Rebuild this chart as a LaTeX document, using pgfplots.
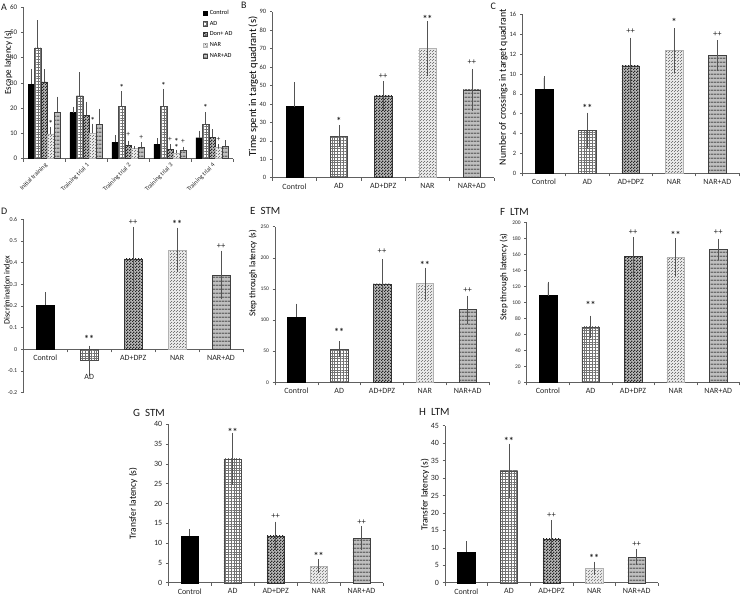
\documentclass[border=0pt]{standalone}
\usepackage{pgfplots}
\pgfplotsset{compat=1.18}
\usepackage{fontspec}
\setmainfont{Carlito}
\usetikzlibrary{patterns}

\pgfdeclarepatternformonly{finegrid}{\pgfqpoint{-0.1pt}{-0.1pt}}{\pgfqpoint{2.9pt}{2.9pt}}{\pgfqpoint{2.8pt}{2.8pt}}{%
  \pgfsetlinewidth{0.35pt}%
  \pgfpathmoveto{\pgfqpoint{0pt}{1.4pt}}\pgfpathlineto{\pgfqpoint{2.8pt}{1.4pt}}%
  \pgfpathmoveto{\pgfqpoint{1.4pt}{0pt}}\pgfpathlineto{\pgfqpoint{1.4pt}{2.8pt}}%
  \pgfusepath{stroke}}
\pgfdeclarepatternformonly{fcheck}{\pgfqpoint{0pt}{0pt}}{\pgfqpoint{3pt}{3pt}}{\pgfqpoint{3pt}{3pt}}{%
  \pgfpathrectangle{\pgfqpoint{0pt}{0pt}}{\pgfqpoint{1.5pt}{1.5pt}}%
  \pgfpathrectangle{\pgfqpoint{1.5pt}{1.5pt}}{\pgfqpoint{1.5pt}{1.5pt}}%
  \pgfusepath{fill}}
\pgfdeclarepatternformonly{fdots}{\pgfqpoint{0pt}{0pt}}{\pgfqpoint{2.5pt}{2.5pt}}{\pgfqpoint{2.5pt}{2.5pt}}{%
  \pgfpathcircle{\pgfqpoint{0.6pt}{0.6pt}}{0.5pt}%
  \pgfpathcircle{\pgfqpoint{1.85pt}{1.85pt}}{0.5pt}%
  \pgfusepath{fill}}
\pgfdeclarepatternformonly{hstripes}{\pgfqpoint{0pt}{0pt}}{\pgfqpoint{3pt}{3.5pt}}{\pgfqpoint{3pt}{3.5pt}}{%
  \pgfpathrectangle{\pgfqpoint{0pt}{0pt}}{\pgfqpoint{3pt}{1.6pt}}%
  \pgfusepath{fill}}

\pgfplotsset{
  panel/.style={
    scale only axis, axis lines*=left,
    axis line style={draw=gray!75!black, line width=0.5pt},
    tick style={draw=gray!75!black, line width=0.5pt},
    tick align=outside, major tick length=2.5pt, minor tick length=3pt,
    major x tick style={draw=none},
    xmin=-0.5, xmax=4.5, xtick={0,1,2,3,4},
    minor xtick={-0.5,0.5,1.5,2.5,3.5,4.5},
    xticklabels={Control,AD,AD+DPZ,NAR,NAR+AD},
    ybar, bar width=17.5pt,
    enlargelimits=false, clip=false,
    /pgf/number format/assume math mode=true,
    ylabel style={anchor=center, font=\fontsize{9}{10}\selectfont},
    xticklabel style={font=\fontsize{8}{9}\selectfont, text=black!85},
    yticklabel style={font=\fontsize{6.5}{7}\selectfont, text=black!85},
    error bars/y dir=both, error bars/y explicit,
    error bars/error bar style={draw=gray!65!black, line width=0.6pt},
    error bars/error mark options={draw=gray!65!black, mark size=1.6pt, line width=0.6pt},
  },
  ctrl/.style={fill=black, draw=black},
  adst/.style={fill=white, draw=gray!60!black, postaction={pattern=finegrid, pattern color=black!55}},
  dpz/.style={fill=gray!55, draw=gray!40!black, postaction={pattern=fcheck, pattern color=black!85}},
  nar/.style={fill=gray!18, draw=gray!60, postaction={pattern=fdots, pattern color=gray!55!black}},
  narad/.style={fill=gray!50, draw=gray!50!black, postaction={pattern=hstripes, pattern color=gray!85!black}},
}
\newcommand{\sig}[3]{\node[font=\bfseries\fontsize{10}{10}\selectfont, text=black!85, yshift=-1.8pt] at (axis cs:#1,#2) {#3};}
\newcommand{\sigp}[3]{\node[font=\fontsize{8.5}{9}\selectfont, text=black!85] at (axis cs:#1,#2) {#3};}

\begin{document}
\begin{tikzpicture}
\useasboundingbox (0pt,0pt) rectangle (740pt,598pt);

% ---------------- A
\begin{axis}[panel, at={(23.3pt,439.3pt)}, anchor=south west, width=209.7pt, height=151.7pt,
  ymin=0, ymax=60, ytick={0,10,...,60}, ybar=0pt, bar width=6.5pt,
  error bars/y dir=plus,
  xticklabels={Initial training,Training trial 1,Training trial 2,Training trial 3,Training trial 4},
  xticklabel style={rotate=45, anchor=north east, font=\fontsize{6.3}{7}\selectfont, inner sep=0.8pt},
  yticklabel style={font=\fontsize{7}{8}\selectfont},
  ylabel={Escape latency (s)}, ylabel style={at={(axis description cs:-0.0715,0.634)}},
  legend style={at={(0.857,0.995)}, anchor=north west, draw=none, fill=none, inner sep=0pt,
    font=\fontsize{6.3}{7}\selectfont, row sep=1.2pt, legend cell align=left,
    /tikz/every even column/.append style={column sep=0.5pt}},
  legend image code/.code={\draw[#1] (0pt,-2pt) rectangle (4.2pt,2.2pt);},
  ]
\addplot[ctrl] coordinates {(0,29.5) +- (0,5.5) (1,18.2) +- (0,1.8) (2,6.5) +- (0,2.1) (3,5.7) +- (0,1.7) (4,8.3) +- (0,2.2)};
\addplot[adst] coordinates {(0,43.9) +- (0,10.2) (1,24.9) +- (0,8.6) (2,20.8) +- (0,5.3) (3,20.7) +- (0,6.3) (4,13.7) +- (0,4.1)};
\addplot[dpz] coordinates {(0,30.4) +- (0,4.4) (1,17.1) +- (0,4.8) (2,5.3) +- (0,1.2) (3,3.8) +- (0,1.2) (4,8.5) +- (0,2.5)};
\addplot[nar] coordinates {(0,9.8) +- (0,2.2) (1,10) +- (0,3.2) (2,4) +- (0,0.4) (3,2.1) +- (0,0.9) (4,4.4) +- (0,0.9)};
\addplot[narad] coordinates {(0,18.3) +- (0,5.6) (1,13.7) +- (0,5.5) (2,4.5) +- (0,1.4) (3,3.2) +- (0,0.9) (4,4.9) +- (0,1.7)};
\legend{Control,AD,Don+ AD,NAR,NAR+AD}
\begin{scope}[every node/.style={font=\fontsize{7.5}{8}\selectfont, text=black!85}]
\node[xshift=6.5pt, yshift=-1.3pt, font=\bfseries\fontsize{8.5}{8}\selectfont] at (axis cs:0,14.6) {*};
\node[xshift=6.5pt, yshift=-1.3pt, font=\bfseries\fontsize{8.5}{8}\selectfont] at (axis cs:1,15.6) {*};
\node[xshift=-6.5pt, yshift=-1.3pt, font=\bfseries\fontsize{8.5}{8}\selectfont] at (axis cs:2,28.7) {*};
\node at (axis cs:2,9.4) {+};
\node[xshift=13pt] at (axis cs:2,8.5) {+};
\node[xshift=-6.5pt, yshift=-1.3pt, font=\bfseries\fontsize{8.5}{8}\selectfont] at (axis cs:3,29.6) {*};
\node at (axis cs:3,7.7) {+};
\node[xshift=6.5pt, yshift=-1.3pt, font=\bfseries\fontsize{8.5}{8}\selectfont] at (axis cs:3,7.4) {*};
\node[xshift=6.5pt, yshift=-1.3pt, font=\bfseries\fontsize{8.5}{8}\selectfont] at (axis cs:3,4.9) {*};
\node[xshift=13pt] at (axis cs:3,7.0) {+};
\node[xshift=-6.5pt, yshift=-1.3pt, font=\bfseries\fontsize{8.5}{8}\selectfont] at (axis cs:4,20.6) {*};
\node[xshift=6.5pt] at (axis cs:4,7.7) {+};
\end{scope}
\end{axis}

% ---------------- B
\begin{axis}[panel, at={(272.3pt,420.3pt)}, anchor=south west, width=221.7pt, height=166pt,
  ymin=0, ymax=90, ytick={0,10,...,90},
  ylabel={Time spent in target quadrant (s)}, ylabel style={at={(axis description cs:-0.0857,0.55)}, font=\fontsize{10.5}{11}\selectfont},
  ]
\addplot[ctrl, bar shift=0pt, error bars/y dir=plus] coordinates {(0,38.5) +- (0,12.5)};
\addplot[adst, bar shift=0pt] coordinates {(1,22.6) +- (0,5)};
\addplot[dpz, bar shift=0pt] coordinates {(2,44.3) +- (0,7.2)};
\addplot[nar, bar shift=0pt] coordinates {(3,70) +- (0,14)};
\addplot[narad, bar shift=0pt] coordinates {(4,47.7) +- (0,10.5)};
\sig{1}{31.6}{*}
\sigp{2}{54.8}{++}
\sig{3}{87.3}{**}
\sigp{4}{62.9}{++}
\end{axis}

% ---------------- C
\begin{axis}[panel, at={(522.3pt,424.7pt)}, anchor=south west, width=216.7pt, height=159pt,
  ymin=0, ymax=16, ytick={0,2,...,16},
  ylabel={Number of crossings in target quadrant}, ylabel style={at={(axis description cs:-0.0877,0.54)}, font=\fontsize{9.8}{10}\selectfont},
  ]
\addplot[ctrl, bar shift=0pt, error bars/y dir=plus] coordinates {(0,8.5) +- (0,1.1)};
\addplot[adst, bar shift=0pt] coordinates {(1,4.35) +- (0,1.6)};
\addplot[dpz, bar shift=0pt] coordinates {(2,10.8) +- (0,2.7)};
\addplot[nar, bar shift=0pt] coordinates {(3,12.35) +- (0,2.1)};
\addplot[narad, bar shift=0pt] coordinates {(4,11.85) +- (0,1.4)};
\sig{1}{6.78}{**}
\sigp{2}{14.26}{++}
\sig{3}{15.4}{*}
\sigp{4}{14.0}{++}
\end{axis}

% ---------------- D
\begin{axis}[panel, at={(23.3pt,205.3pt)}, anchor=south west, width=219.7pt, height=173.4pt,
  axis x line*=middle, axis y line*=left,
  hide obscured x ticks=false, hide obscured y ticks=false,
  ymin=-0.2, ymax=0.6, ytick={-0.2,-0.1,0,0.1,0.2,0.3,0.4,0.5,0.6},
  yticklabel style={font=\fontsize{6}{7}\selectfont, /pgf/number format/fixed, /pgf/number format/precision=1},
  xticklabels={Control,{},AD+DPZ,NAR,NAR+AD},
  ylabel={Discrimination index}, ylabel style={at={(axis description cs:-0.075,0.59)}, font=\fontsize{8.2}{9}\selectfont},
  ]
\addplot[ctrl, bar shift=0pt, error bars/y dir=plus] coordinates {(0,0.205) +- (0,0.05)};
\addplot[adst, bar shift=0pt] coordinates {(1,-0.052) +- (0,0.062)};
\addplot[dpz, bar shift=0pt] coordinates {(2,0.417) +- (0,0.141)};
\addplot[nar, bar shift=0pt] coordinates {(3,0.458) +- (0,0.096)};
\addplot[narad, bar shift=0pt] coordinates {(4,0.343) +- (0,0.105)};
\node[anchor=north, font=\fontsize{8}{9}\selectfont, text=black!85, yshift=-10pt] at (axis cs:1,-0.052) {AD};
\sig{1}{0.058}{**}
\sigp{2}{0.586}{++}
\sig{3}{0.589}{**}
\sigp{4}{0.478}{++}
\end{axis}

% ---------------- E
\begin{axis}[panel, at={(275pt,215.7pt)}, anchor=south west, width=214pt, height=155.6pt,
  ymin=0, ymax=250, ytick={0,50,...,250},
  yticklabel style={font=\fontsize{5.5}{6}\selectfont},
  ylabel={Step through latency (s)}, ylabel style={at={(axis description cs:-0.103,0.70)}},
  ]
\addplot[ctrl, bar shift=0pt, error bars/y dir=plus] coordinates {(0,105) +- (0,19)};
\addplot[adst, bar shift=0pt] coordinates {(1,53) +- (0,10.5)};
\addplot[dpz, bar shift=0pt] coordinates {(2,158) +- (0,37)};
\addplot[nar, bar shift=0pt] coordinates {(3,158.5) +- (0,23)};
\addplot[narad, bar shift=0pt] coordinates {(4,116.7) +- (0,19.8)};
\sig{1}{84}{**}
\sigp{2}{209.9}{++}
\sig{3}{192.2}{**}
\sigp{4}{148.3}{++}
\end{axis}

% ---------------- F
\begin{axis}[panel, at={(526.7pt,215.7pt)}, anchor=south west, width=212.8pt, height=159.6pt,
  ymin=0, ymax=200, ytick={0,20,...,200},
  yticklabel style={font=\fontsize{5.5}{6}\selectfont},
  ylabel={Step through latency (s)}, ylabel style={at={(axis description cs:-0.107,0.66)}},
  ]
\addplot[ctrl, bar shift=0pt, error bars/y dir=plus] coordinates {(0,108.6) +- (0,15.5)};
\addplot[adst, bar shift=0pt] coordinates {(1,69.3) +- (0,12.1)};
\addplot[dpz, bar shift=0pt] coordinates {(2,157.8) +- (0,22.2)};
\addplot[nar, bar shift=0pt] coordinates {(3,156.6) +- (0,22)};
\addplot[narad, bar shift=0pt] coordinates {(4,166.6) +- (0,11.3)};
\sig{1}{99.8}{**}
\sigp{2}{188.7}{++}
\sig{3}{186.6}{**}
\sigp{4}{188.7}{++}
\end{axis}

% ---------------- G
\begin{axis}[panel, at={(168.3pt,15.3pt)}, anchor=south west, width=214.7pt, height=158.4pt,
  ymin=0, ymax=40, ytick={0,5,...,40},
  yticklabel style={font=\fontsize{8}{9}\selectfont},
  ylabel={Transfer latency (s)}, ylabel style={at={(axis description cs:-0.163,0.5)}, font=\fontsize{9.4}{10}\selectfont},
  ]
\addplot[ctrl, bar shift=0pt, error bars/y dir=plus] coordinates {(0,11.8) +- (0,1.4)};
\addplot[adst, bar shift=0pt] coordinates {(1,31.3) +- (0,6.2)};
\addplot[dpz, bar shift=0pt] coordinates {(2,11.8) +- (0,3.2)};
\addplot[nar, bar shift=0pt] coordinates {(3,4.2) +- (0,1.3)};
\addplot[narad, bar shift=0pt] coordinates {(4,11.3) +- (0,2.6)};
\sig{1}{38.6}{**}
\sigp{2}{16.8}{++}
\sig{3}{7.2}{**}
\sigp{4}{15.4}{++}
\end{axis}

% ---------------- H
\begin{axis}[panel, at={(445pt,15.3pt)}, anchor=south west, width=213pt, height=157pt,
  ymin=0, ymax=45, ytick={0,5,...,45},
  yticklabel style={font=\fontsize{8}{9}\selectfont},
  ylabel={Transfer latency (s)}, ylabel style={at={(axis description cs:-0.094,0.56)}, font=\fontsize{9.4}{10}\selectfont},
  ]
\addplot[ctrl, bar shift=0pt, error bars/y dir=plus] coordinates {(0,8.8) +- (0,2.6)};
\addplot[adst, bar shift=0pt] coordinates {(1,32.1) +- (0,7.3)};
\addplot[dpz, bar shift=0pt] coordinates {(2,12.6) +- (0,4.8)};
\addplot[nar, bar shift=0pt] coordinates {(3,4.1) +- (0,1.5)};
\addplot[narad, bar shift=0pt] coordinates {(4,7.3) +- (0,1.8)};
\sig{1}{41.1}{**}
\sigp{2}{19.4}{++}
\sig{3}{7.6}{**}
\sigp{4}{11.0}{++}
\end{axis}

% ---------------- panel letters
\begin{scope}[every node/.style={anchor=west, inner sep=0pt, text=black!90}]
\node[font=\fontsize{10}{10}\selectfont] at (1pt,591pt) {A};
\node[font=\fontsize{10}{10}\selectfont] at (241pt,593pt) {B};
\node[font=\fontsize{10}{10}\selectfont] at (490.5pt,591.7pt) {C};
\node[font=\fontsize{10}{10}\selectfont] at (1pt,387pt) {D};
\node[font=\fontsize{11}{11}\selectfont] at (250pt,387.2pt) {E\hspace{5pt}STM};
\node[font=\fontsize{11}{11}\selectfont] at (500pt,386pt) {F\hspace{5pt}LTM};
\node[font=\fontsize{11}{11}\selectfont] at (133pt,185.5pt) {G\hspace{5pt}STM};
\node[font=\fontsize{11}{11}\selectfont] at (419pt,186pt) {H\hspace{5pt}LTM};
\end{scope}
\end{tikzpicture}
\end{document}
